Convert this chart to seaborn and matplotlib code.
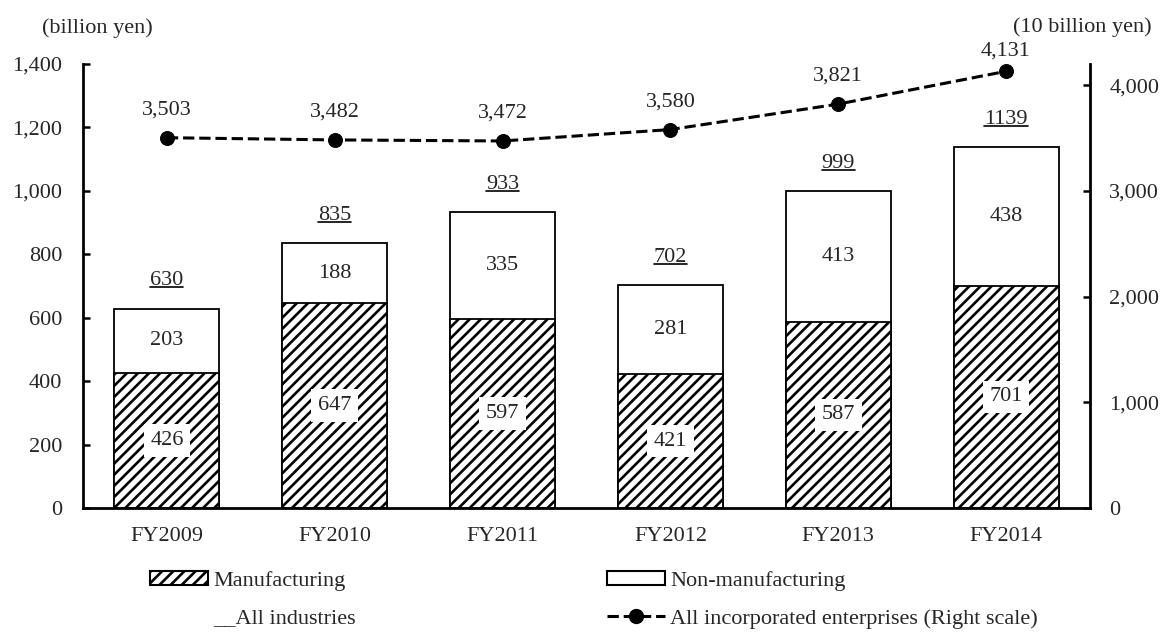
import numpy as np
import pandas as pd
import matplotlib
matplotlib.use("Agg")
import matplotlib.pyplot as plt
from matplotlib.patches import Patch
from matplotlib.lines import Line2D
import seaborn as sns

# ---- data ----
years = ["FY2009", "FY2010", "FY2011", "FY2012", "FY2013", "FY2014"]
manufacturing = [426, 647, 597, 421, 587, 701]
non_manufacturing = [203, 188, 335, 281, 413, 438]
all_industries = [630, 835, 933, 702, 999, 1139]
all_incorporated = [3503, 3482, 3472, 3580, 3821, 4131]
left_ticks = [0, 200, 400, 600, 800, 1000, 1200, 1400]
right_ticks = [0, 1000, 2000, 3000, 4000]

sns.set_theme(style="white")
plt.rcParams["font.family"] = ["Liberation Serif", "DejaVu Serif"]
plt.rcParams["hatch.linewidth"] = 1.9
plt.rcParams["hatch.color"] = "black"
FS = 16

df = pd.DataFrame({"year": years, "manu": manufacturing, "non": non_manufacturing,
                   "stack": np.array(manufacturing) + np.array(non_manufacturing)})

fig = plt.figure(figsize=(11.65, 6.32), dpi=100)
ax = fig.add_axes([0.0712, 0.1962, 0.8644, 0.7025])

# stacked bars: full stack (white) then manufacturing (hatched) on top
sns.barplot(data=df, x="year", y="stack", color="white", edgecolor="black",
            linewidth=1.3, width=0.625, ax=ax, saturation=1)
n_first = len(ax.patches)
sns.barplot(data=df, x="year", y="manu", color="white", edgecolor="black",
            linewidth=1.3, width=0.625, ax=ax, saturation=1)
for p in ax.patches[n_first:]:
    p.set_hatch("///")
    p.set_facecolor("white")

ax.set_ylim(0, 1400)
ax.set_xlim(-0.5, 5.5)
ax.set_yticks(left_ticks)
ax.set_yticklabels([f"{v:,}" for v in left_ticks])
ax.set_xlabel("")
ax.set_ylabel("")
ax.set_xticks(range(len(years)))
ax.set_xticklabels(years)
ax.set_xticks(np.arange(0.5, len(years) - 1, 1.0), minor=True)
ax.tick_params(axis="x", which="major", length=0, pad=14, labelsize=FS)
ax.tick_params(axis="x", which="minor", direction="in", length=6, width=1.3, color="black")
ax.tick_params(axis="y", direction="in", length=5, width=1.8, pad=15, labelsize=FS,
               left=True, color="black")

# labels on bars
total_texts = []
for i in range(len(years)):
    m = manufacturing[i]
    nm = non_manufacturing[i]
    ax.text(i, m / 2, f"{m}", ha="center", va="center", fontsize=FS, zorder=5,
            bbox=dict(boxstyle="square,pad=0.3", facecolor="white", edgecolor="none"))
    ax.text(i, m + nm / 2, f"{nm}", ha="center", va="center", fontsize=FS, zorder=5)
    t = ax.annotate(f"{all_industries[i]}", (i, m + nm),
                    xytext=(0, 20), textcoords="offset points", ha="center", va="center",
                    fontsize=FS, zorder=5)
    total_texts.append(t)

# right axis line
ax2 = ax.twinx()
sns.lineplot(x=np.arange(len(years)), y=all_incorporated, ax=ax2, color="black",
             linestyle="--", linewidth=2.2, marker="o", markersize=10,
             markeredgecolor="black", markerfacecolor="black", zorder=6)
ax2.set_ylim(0, 4200)
ax2.set_yticks(right_ticks)
ax2.set_yticklabels([f"{v:,}" for v in right_ticks])
ax2.tick_params(axis="y", direction="in", length=5, width=1.8, pad=14, labelsize=FS,
                right=True, color="black")
ax2.set_ylabel("")
for i, v in enumerate(all_incorporated):
    # keep the label under the axis-unit caption when the point is near the top
    off = 20 if v < 4000 else 14.5
    ax2.annotate(f"{v:,}", (i, v), xytext=(0, off), textcoords="offset points",
                 ha="center", va="center", fontsize=FS)

for a in (ax, ax2):
    a.spines["top"].set_visible(False)
    for s in ("left", "right", "bottom"):
        a.spines[s].set_color("black")
        a.spines[s].set_linewidth(2.0)
ax.spines["right"].set_visible(False)
ax2.spines["left"].set_visible(False)
ax2.spines["bottom"].set_visible(False)

fig.text(42 / 1165, 1 - 28 / 632, "(billion yen)", ha="left", va="center", fontsize=FS)
fig.text(1152 / 1165, 1 - 27 / 632, "(10 billion yen)", ha="right", va="center", fontsize=FS)

# legends
h_manu = Patch(facecolor="white", edgecolor="black", hatch="///", linewidth=1.5)
h_non = Patch(facecolor="white", edgecolor="black", linewidth=1.5)
h_all = Line2D([], [], color="none")
h_inc = Line2D([], [], color="black", linestyle="--", linewidth=2.2, marker="o",
               markersize=10)
common = dict(frameon=False, fontsize=FS, handlelength=2.6, handleheight=0.6,
              handletextpad=0.25, labelspacing=0.8, borderpad=0, borderaxespad=0,
              loc="upper left", numpoints=1)
fig.legend([h_manu, h_all], ["Manufacturing", "__All industries"],
           bbox_to_anchor=(150 / 1165, 1 - 571 / 632), **common)
fig.legend([h_non, h_inc], ["Non-manufacturing", "All incorporated enterprises (Right scale)"],
           bbox_to_anchor=(607 / 1165, 1 - 571 / 632), **common)

# underline the total labels (based on each label's rendered extent)
fig.canvas.draw()
renderer = fig.canvas.get_renderer()
inv = fig.transFigure.inverted()
for t in total_texts:
    bb = t.get_window_extent(renderer)
    (x0, y0), (x1, _) = inv.transform([(bb.x0, bb.y0 + 3), (bb.x1, bb.y0 + 3)])
    fig.add_artist(Line2D([x0, x1], [y0, y0], transform=fig.transFigure,
                          color="black", linewidth=1.2))

fig.savefig("out.png", dpi=100)
